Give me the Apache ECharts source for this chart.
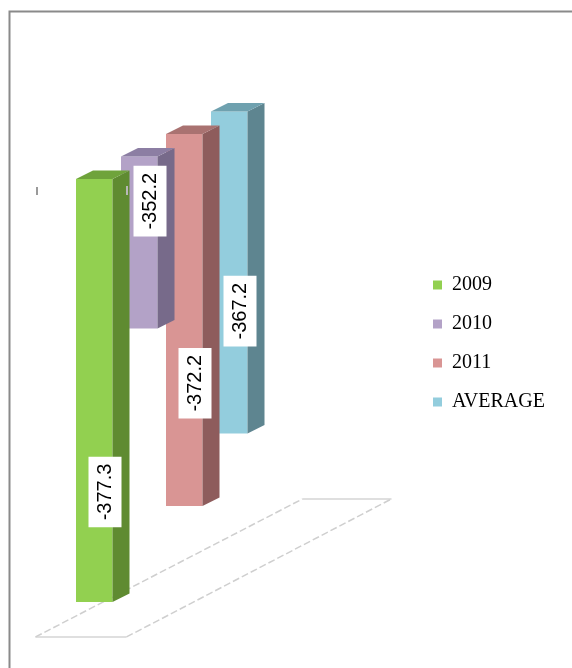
<!DOCTYPE html>
<html>
<head>
<meta charset="utf-8">
<script src="https://cdn.jsdelivr.net/npm/echarts@6/dist/echarts.min.js"></script>
<style>
  html, body { margin: 0; padding: 0; background: #ffffff; }
  #chart { width: 572px; height: 668px; }
</style>
</head>
<body>
<div id="chart"></div>
<script>
// Series names and their values
const categories = ['2009', '2010', '2011', 'AVERAGE'];
const values = [-377.3, -352.2, -372.2, -367.2];

// Where each value label sits along its column (0 = top, 1 = bottom)
const labelFraction = [0.74, 0.26, 0.67, 0.62];

// Face colours of each column: front, side, top
const frontColors = ['#92D050', '#B3A2C7', '#D99594', '#93CDDD'];
const sideColors  = ['#5F8B31', '#776A8A', '#8E5C5C', '#5E8590'];
const topColors   = ['#6FA33B', '#8C7EA3', '#A97271', '#6FA1AF'];

// Value axis range
const AXIS_TOP = -335;
const AXIS_BOTTOM = -380;

// Oblique projection: columns further back move up by half their horizontal shift
const DEPTH_SLOPE = 0.5;
const FACE_W = 36.5;
const SIDE_DX = 17;
const SIDE_DY = -8.5;

const chart = echarts.init(document.getElementById('chart'), null, { renderer: 'canvas' });

function columnRenderer(idx) {
  return function (params, api) {
    const origin = api.coord([0, AXIS_TOP]);
    const topPt = api.coord([api.value(0), AXIS_TOP]);
    const endPt = api.coord([api.value(0), api.value(1)]);
    const lift = -DEPTH_SLOPE * (topPt[0] - origin[0]);
    const x = topPt[0];
    const yTop = topPt[1] + lift;
    const yBot = endPt[1] + lift;
    const h = yBot - yTop;
    const label = String(values[idx]);
    return {
      type: 'group',
      children: [
        {
          type: 'rect',
          shape: { x: x, y: yTop, width: FACE_W, height: h },
          style: { fill: frontColors[idx] }
        },
        {
          type: 'polygon',
          shape: { points: [
            [x + FACE_W, yTop], [x + FACE_W + SIDE_DX, yTop + SIDE_DY],
            [x + FACE_W + SIDE_DX, yBot + SIDE_DY], [x + FACE_W, yBot]
          ] },
          style: { fill: sideColors[idx] }
        },
        {
          type: 'polygon',
          shape: { points: [
            [x, yTop], [x + SIDE_DX, yTop + SIDE_DY],
            [x + FACE_W + SIDE_DX, yTop + SIDE_DY], [x + FACE_W, yTop]
          ] },
          style: { fill: topColors[idx] }
        },
        {
          type: 'text',
          x: x + 29,
          y: yTop + labelFraction[idx] * h,
          rotation: Math.PI / 2,
          style: {
            text: label,
            fill: '#000000',
            font: '20px "Liberation Sans", Arial, sans-serif',
            align: 'center',
            verticalAlign: 'middle',
            backgroundColor: '#ffffff',
            padding: [7, 7, 6, 7]
          }
        }
      ]
    };
  };
}

// Floor plate under the columns
function floorRenderer(params, api) {
  const p = api.coord([-0.9, -378.7]);
  const origin = api.coord([0, AXIS_TOP]);
  const x0 = p[0];
  const y0 = p[1] - 0.517 * (p[0] - origin[0]);
  const fl = [x0, y0];
  const fr = [x0 + 91, y0];
  const bl = [x0 + 267, y0 - 138];
  const br = [x0 + 356, y0 - 138];
  const solid = { stroke: '#d4d4d4', lineWidth: 1.5, fill: null };
  const dashed = { stroke: '#cfcfcf', lineWidth: 1.5, fill: null, lineDash: [7, 3] };
  return {
    type: 'group',
    children: [
      { type: 'line', shape: { x1: fl[0], y1: fl[1], x2: fr[0], y2: fr[1] }, style: solid },
      { type: 'line', shape: { x1: bl[0], y1: bl[1], x2: br[0], y2: br[1] }, style: solid },
      { type: 'line', shape: { x1: fl[0], y1: fl[1], x2: bl[0], y2: bl[1] }, style: dashed },
      { type: 'line', shape: { x1: fr[0], y1: fr[1], x2: br[0], y2: br[1] }, style: dashed }
    ]
  };
}

const series = [{
  type: 'custom',
  name: 'floor',
  silent: true,
  z: 1,
  renderItem: floorRenderer,
  data: [[0, AXIS_BOTTOM]]
}];

categories.forEach(function (name, i) {
  series.push({
    type: 'custom',
    name: name,
    z: 10 - i,
    itemStyle: { color: frontColors[i] },
    renderItem: columnRenderer(i),
    data: [[i, values[i]]]
  });
});

chart.setOption({
  backgroundColor: '#ffffff',
  animation: false,
  grid: { left: 76, top: 179, width: 135, height: 450 },
  xAxis: { type: 'value', min: 0, max: 3, show: false },
  yAxis: { type: 'value', min: AXIS_BOTTOM, max: AXIS_TOP, show: false },
  legend: {
    data: categories,
    orient: 'vertical',
    left: 433,
    top: 275,
    padding: 0,
    itemWidth: 9,
    itemHeight: 9,
    itemGap: 19,
    icon: 'rect',
    textStyle: {
      fontFamily: '"Liberation Serif", "Times New Roman", serif',
      fontSize: 20,
      color: '#000000',
      padding: [0, 0, 0, 5]
    }
  },
  graphic: [
    {
      type: 'rect',
      left: 7, top: 9,
      shape: { width: 620, height: 720 },
      style: { fill: null, stroke: '#8a8a8a', lineWidth: 2 },
      z: 0
    },
    {
      type: 'rect',
      left: 36, top: 187,
      shape: { width: 2, height: 8 },
      style: { fill: '#9a9a9a' },
      z: 0
    },
    {
      type: 'rect',
      left: 126, top: 186,
      shape: { width: 2, height: 9 },
      style: { fill: '#b8b8b8' },
      z: 100
    }
  ],
  series: series
});
</script>
</body>
</html>
